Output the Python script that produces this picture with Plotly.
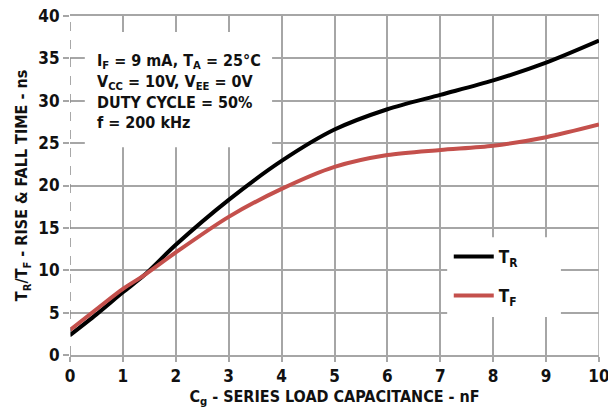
import plotly.graph_objects as go

cap_nf = [0, 0.5, 1, 1.4, 2, 3, 4, 5, 6, 7, 8, 9, 10]
t_rise = [2.35, 4.8, 7.4, 9.4, 13.0, 18.3, 22.9, 26.6, 29.0, 30.7, 32.4, 34.5, 37.1]
t_fall = [2.95, 5.4, 7.8, 9.4, 12.1, 16.3, 19.6, 22.2, 23.6, 24.2, 24.7, 25.7, 27.2]
x_ticks = list(range(0, 11))
y_ticks = list(range(0, 41, 5))

FONT = "DejaVu Sans Condensed"
GRID = "#a6a6a6"
BOLD = dict(family=FONT, size=16, color="#111111", weight="bold")

fig = go.Figure()
fig.add_trace(go.Scatter(x=cap_nf, y=t_rise, mode="lines", name="T<sub>R</sub>",
                         line=dict(color="#000000", width=4, shape="spline", smoothing=0.8),
                         legend="legend"))
fig.add_trace(go.Scatter(x=cap_nf, y=t_fall, mode="lines", name="T<sub>F</sub>",
                         line=dict(color="#C4504C", width=4, shape="spline", smoothing=0.8),
                         legend="legend2"))

fig.update_layout(
    width=604, height=400,
    margin=dict(l=62, r=13, t=8, b=53, autoexpand=False),
    paper_bgcolor="white", plot_bgcolor="white",
    font=BOLD,
    showlegend=True,
    legend=dict(x=0.716, y=0.289, xanchor="left", yanchor="middle", itemwidth=40,
                bgcolor="rgba(0,0,0,0)", font=dict(BOLD, size=17)),
    legend2=dict(x=0.716, y=0.174, xanchor="left", yanchor="middle", itemwidth=40,
                 bgcolor="rgba(0,0,0,0)", font=dict(BOLD, size=17)),
    xaxis=dict(range=[0, 10], tickvals=x_ticks, ticktext=[str(v) for v in x_ticks],
               tickfont=dict(BOLD, size=17), ticklabeloverflow="allow",
               showgrid=True, gridcolor=GRID, gridwidth=1.5, zeroline=False,
               showline=True, linecolor=GRID, linewidth=1.5, mirror=True,
               ticks="outside", ticklen=5, tickcolor=GRID, tickwidth=1.5,
               automargin=False,
               title=dict(text="C<sub>g</sub> - SERIES LOAD CAPACITANCE - nF",
                          font=dict(BOLD, size=16), standoff=10)),
    yaxis=dict(range=[0, 40], tickvals=y_ticks, ticktext=[str(v) for v in y_ticks],
               tickfont=dict(BOLD, size=17), ticklabeloverflow="allow",
               showgrid=True, gridcolor=GRID, gridwidth=1.5, zeroline=False,
               showline=False, automargin=False,
               ticks="outside", ticklen=6, tickcolor=GRID, tickwidth=1.5,
               title=dict(text="T<sub>R</sub>/T<sub>F</sub> - RISE & FALL TIME - ns",
                          font=dict(BOLD, size=16), standoff=6)),
)

# dashed left axis
fig.add_shape(type="line", xref="x", yref="y", x0=0, x1=0, y0=0, y1=40,
              line=dict(color="#8c8c8c", width=1.5, dash="dash"), layer="above")
# right edge line
fig.add_shape(type="line", xref="x", yref="y", x0=10, x1=10, y0=0, y1=40,
              line=dict(color=GRID, width=1.5), layer="below")
# white boxes behind text block and legend
fig.add_shape(type="rect", xref="x", yref="y", x0=0.28, x1=3.82, y0=24.5, y1=38.1,
              fillcolor="white", line=dict(width=0), layer="between")
fig.add_shape(type="rect", xref="x", yref="y", x0=7.13, x1=9.28, y0=4.48, y1=13.9,
              fillcolor="white", line=dict(width=0), layer="between")

fig.add_annotation(
    xref="x", yref="y", x=0.47, y=36.05, xanchor="left", yanchor="top",
    align="left", showarrow=False,
    font=dict(BOLD, size=16),
    text=("I<sub>F</sub> = 9 mA, T<sub>A</sub> = 25°C<br>"
          "V<sub>CC</sub> = 10V, V<sub>EE</sub> = 0V<br>"
          "DUTY CYCLE = 50%<br>"
          "f = 200 kHz"),
)

fig.write_html("out.html")
